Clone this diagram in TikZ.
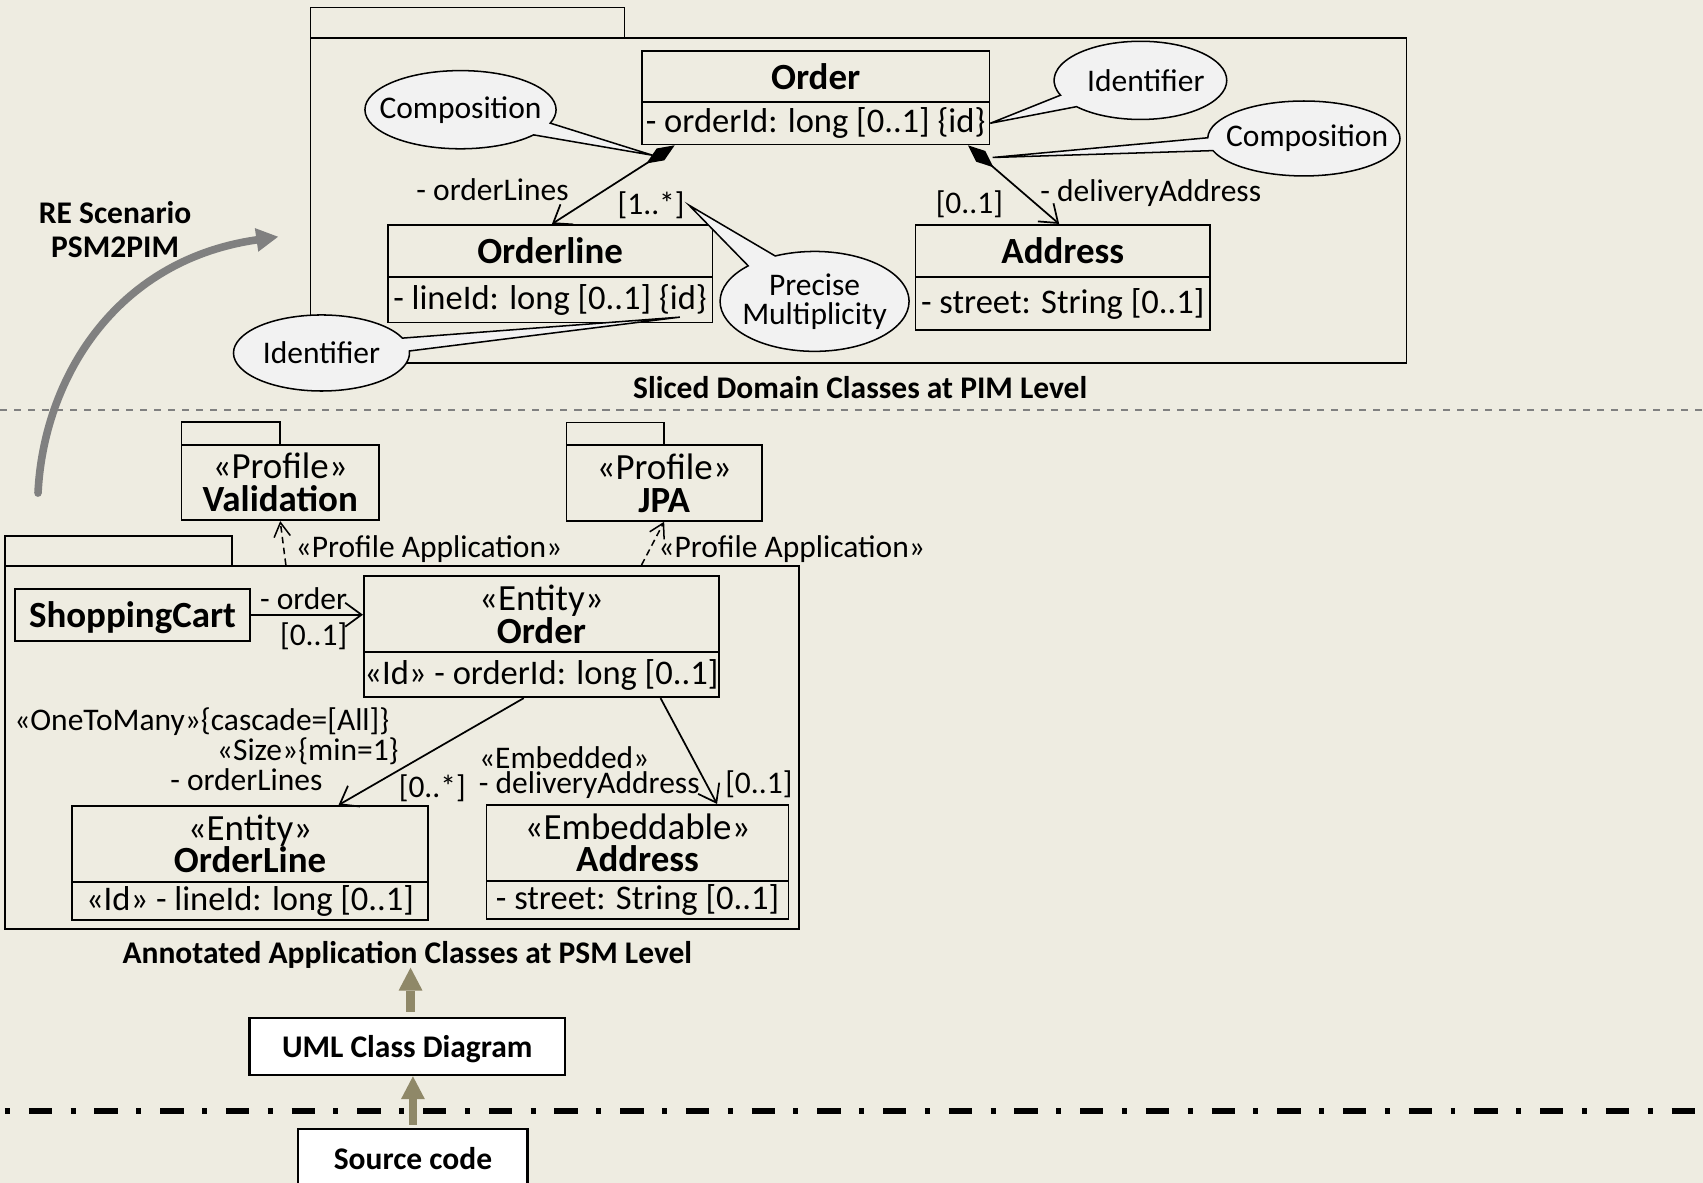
\documentclass[tikz,border=0pt]{standalone}
\usepackage{fontspec}
\setmainfont{Carlito}
\usetikzlibrary{arrows.meta,shapes.geometric,shapes.callouts,calc}
\definecolor{bg}{HTML}{EEECE1}
\definecolor{notefill}{HTML}{F2F2F2}
\definecolor{olive}{HTML}{8F8868}
\definecolor{dashgray}{HTML}{808080}
\newcommand{\zw}[1]{\makebox[0pt]{#1}}
\begin{document}
\begin{tikzpicture}[x=1pt,y=-1pt,
  box/.style={draw, line width=1.6pt, rectangle, inner sep=0pt},
  hdr/.style={box, align=center, font=\fontsize{34}{30}\selectfont},
  hdrb/.style={box, align=center, text depth=0pt, font=\fontsize{34}{30}\selectfont\bfseries},
  attr/.style={box, font=\fontsize{31.8}{36}\selectfont},
  lbl/.style={inner sep=0pt, font=\fontsize{29}{34}\selectfont},
  blbl/.style={inner sep=0pt, align=center, font=\fontsize{29}{31}\selectfont\bfseries},
  note/.style={ellipse callout, draw, fill=notefill, line width=1.4pt, inner sep=0pt,
    align=center, callout pointer arc=20, font=\fontsize{29}{27}\selectfont},
  assoc/.style={line width=1.6pt, -{Straight Barb[length=15pt,width=22pt]}},
  comp/.style={line width=1.6pt, {Diamond[length=31pt,width=13pt]}-{Straight Barb[length=15pt,width=22pt]}},
  dep/.style={line width=1.4pt, dash pattern=on 6pt off 4pt, -{Straight Barb[length=13pt,width=15pt]}},
  flow/.style={olive, line width=7.7pt, -{Triangle[length=21pt,width=22pt,line width=0pt]}},
  srcbox/.style={box, fill=white, line width=2pt, text depth=0pt, font=\fontsize{29}{31}\selectfont\bfseries},
]
\path[use as bounding box, fill=bg] (0,0) rectangle (1568,1089);

% ---------- PIM package ----------
\node[box, minimum width=289, minimum height=28] (pimTab) at (430.5,21) {};
\node[box, minimum width=1009, minimum height=299] (pimPkg) at (790.5,184.5) {};

\node[hdrb, minimum width=320, minimum height=47] (ordH) at (751,70.5) {Order};
\node[attr, minimum width=320, minimum height=39] (ordA) at (751,113.5) {- orderId: long [0..1] \{id\}};
\node[hdrb, minimum width=299, minimum height=48] (olH) at (506.5,231) {Orderline};
\node[attr, minimum width=299, minimum height=42] (olA) at (506.5,276) {- lineId: long [0..1] \{id\}};
\node[hdrb, minimum width=271, minimum height=48] (adH) at (978.5,231) {Address};
\node[attr, minimum width=271, minimum height=49] (adA) at (978.5,279.5) {- street: String [0..1]};

\draw[comp] ($(ordA.south west)+(31,0)$) -- ($(olH.north west)+(152,0)$);
\draw[comp] ($(ordA.south west)+(301,0)$) -- ($(adH.north west)+(133,0)$);

\node[lbl] (lOL) at (453.5,175) {- orderLines};
\node[lbl] (lM1) at (599.5,189) {[1..*]};
\node[lbl] (lM2) at (892.5,188) {[0..1]};
\node[lbl] (lDA) at (1059.5,178) {- deliveryAddress};

\coordinate (tCL) at (601,143);
\coordinate (tCR) at (914,145);
\coordinate (tPM) at ($(lM1.east)+(4,0)$);
\coordinate (tIL) at (626,292);

\node[note, minimum width=176, minimum height=72, callout absolute pointer={(tCL)}] (nCL) at (424,101) {\zw{Composition}};
\node[note, minimum width=159, minimum height=72, callout absolute pointer={(ordA.east)}] (nIR) at (1050,74) {\zw{\hspace{10pt}Identifier}};
\node[note, minimum width=177, minimum height=69, callout absolute pointer={(tCR)}] (nCR) at (1200.5,127.5) {\zw{\hspace{6pt}Composition}};
\node[note, minimum width=174, minimum height=92, callout absolute pointer={(tPM)}] (nPM) at (750,277.5) {\zw{Precise}\\\zw{Multiplicity}};
\node[note, minimum width=162, minimum height=70, callout absolute pointer={(tIL)}] (nIL) at (296,325) {\zw{Identifier}};

\node[blbl] (pimLbl) at (792,357) {Sliced Domain Classes at PIM Level};

% ---------- separator ----------
\draw[dashgray, line width=1.8pt, dash pattern=on 6.5pt off 6.4pt] (0,377.5) -- (1568,377.5);

% ---------- RE scenario ----------
\node[blbl] (re) at (106,211.5) {RE Scenario\\PSM2PIM};
\coordinate (cS) at (35,454);
\coordinate (cE) at (256,218);
\draw[dashgray, line width=7pt, line cap=round, -{Triangle[length=20pt,width=22pt,line width=0pt]}]
  (cS) .. controls (40,350) and (105,240) .. (cE);

% ---------- profiles ----------
\node[box, minimum width=91, minimum height=21] (valTab) at (212.5,399) {};
\node[hdr, minimum width=182, minimum height=69.5] (val) at (258,444.2) {«Profile»\\\textbf{Validation}};
\node[box, minimum width=90, minimum height=21] (jpaTab) at (566.5,399.5) {};
\node[hdr, minimum width=180, minimum height=69.5] (jpa) at (611.5,444.8) {«Profile»\\\textbf{JPA}};

% ---------- PSM package ----------
\node[box, minimum width=209, minimum height=27.5] (psmTab) at (109.1,507.2) {};
\node[box, minimum width=731, minimum height=334.5] (psmPkg) at (370,688.2) {};

\draw[dep] ($(psmPkg.north west)+(259.5,0)$) -- (val.south);
\draw[dep] ($(psmPkg.north west)+(587,0)$) -- (jpa.south);
\node[lbl, anchor=west] (pa1) at (272,506) {«Profile Application»};
\node[lbl, anchor=west] (pa2) at (606,506) {«Profile Application»};

\node[hdrb, minimum width=216, minimum height=48] (cart) at (122,566) {ShoppingCart};
\node[hdr, minimum width=327, minimum height=70] (pOrdH) at (498.5,565.5) {«Entity»\\\textbf{Order}};
\node[attr, minimum width=327, minimum height=41.5] (pOrdA) at (498.5,621.25) {«Id» - orderId: long [0..1]};
\draw[assoc] (cart.east) -- (cart.east -| pOrdH.west);
\node[lbl] (lOrd) at (279.5,551.5) {- order};
\node[lbl] (lOrdM) at (288.8,585.6) {[0..1]};

\node[hdr, minimum width=327.5, minimum height=70] (pOlH) at (230.25,777) {«Entity»\\\textbf{OrderLine}};
\node[attr, minimum width=327.5, minimum height=35] (pOlA) at (230.25,829.5) {«Id» - lineId: long [0..1]\hspace{12pt}};
\node[hdr, minimum width=278, minimum height=70] (pAdH) at (587,776) {«Embeddable»\\\textbf{Address}};
\node[attr, minimum width=278, minimum height=35] (pAdA) at (587,828.5) {- street: String [0..1]};

\draw[assoc] ($(pOrdA.south west)+(148,0)$) -- ($(pOlH.north west)+(246,0)$);
\draw[assoc] ($(pOrdA.south west)+(274,0)$) -- ($(pAdH.north west)+(213,0)$);

\node[lbl] (l1) at (185.8,664.5) {«OneToMany»\{cascade=[All]\}};
\node[lbl] (l2) at (283.4,691.5) {«Size»\{min=1\}};
\node[lbl] (l3) at (226.8,717.5) {- orderLines};
\node[lbl] (l4) at (398,726) {[0..*]};
\node[lbl] (l5) at (519.5,697.5) {«Embedded»};
\node[lbl] (l6) at (542.5,722.5) {- deliveryAddress};
\node[lbl] (l7) at (698.7,722) {[0..1]};

\node[blbl] (psmLbl) at (375,879) {Annotated Application Classes at PSM Level};

% ---------- bottom ----------
\draw[line width=5.2pt, dash pattern=on 21.5pt off 17pt on 4.6pt off 17.4pt, dash phase=34pt] (0,1023) -- (1568,1023);

\node[srcbox, minimum width=290.6, minimum height=53] (uml) at (375,963.5) {UML Class Diagram};
\node[srcbox, minimum width=211, minimum height=55] (src) at (380.2,1067) {Source code};

\coordinate (a1e) at (378,891);
\draw[flow] ($(uml.north)+(3,-4.5)$) -- (a1e);
\draw[flow] ($(src.north)+(0,-3)$) -- (uml.south -| src.north);
\end{tikzpicture}
\end{document}
